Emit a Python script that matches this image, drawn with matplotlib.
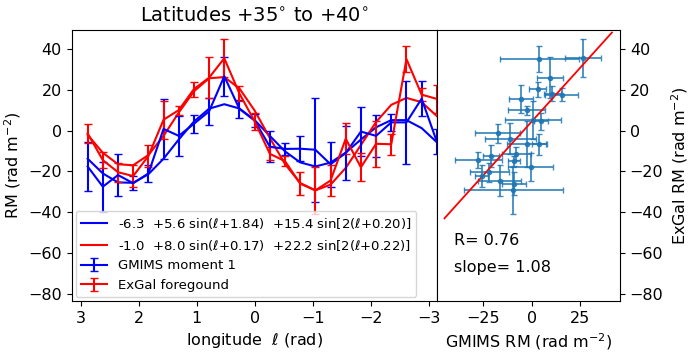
import matplotlib
matplotlib.use('Agg')
import matplotlib.pyplot as plt
import numpy as np

# galactic longitude bins (deg), 15 deg steps
lon_deg = [165, 150, 135, 120, 105, 90, 75, 60, 45, 30, 15, 0,
           -15, -30, -45, -60, -75, -90, -105, -120, -135, -150, -165, -180]

# GMIMS moment 1
gm = [-17.6, -27.5, -21.8, -25.8, -21.0, 0.8, -2.6, 3.3, 9.4, 26.6, 10.6, 4.9,
      -7.9, -9.0, -8.9, -9.4, -16.5, -11.0, -0.5, -2.6, 4.0, 4.0, 15.6, -5.4]
gm_err = [11.8, 12.3, 10.2, 3.5, 4.0, 14.5, 9.7, 4.4, 6.7, 9.5, 4.4, 3.4,
          7.6, 3.0, 6.2, 25.5, 11.0, 13.2, 11.8, 10.3, 4.0, 20.5, 8.5, 6.3]

# ExGal foreground
ex = [-1.4, -14.5, -20.4, -22.3, -12.5, 5.3, 10.0, 20.3, 25.9, 35.4, 18.1, 4.5,
      -11.4, -15.0, -26.0, -29.3, -24.5, -4.0, -18.0, -6.5, -6.7, 35.0, 17.6, 15.5]
ex_err = [4.6, 4.0, 4.7, 5.4, 5.6, 9.3, 2.2, 3.7, 10.0, 9.4, 3.5, 4.1,
          3.2, 2.5, 5.7, 11.5, 7.7, 7.5, 6.9, 11.4, 5.1, 6.3, 3.0, 7.0]

# fitted curves at the same longitudes
bfit = [-13.8, -21.0, -25.4, -25.6, -21.4, -13.8, -4.4, 4.4, 10.7, 12.9, 10.8, 5.1,
        -2.6, -10.2, -15.6, -17.6, -15.7, -10.8, -4.4, 1.6, 5.1, 5.1, 1.2, -5.7]
rfit = [-2.1, -10.9, -16.5, -17.0, -12.0, -2.6, 8.8, 19.2, 25.6, 26.2, 20.6, 9.8,
        -3.6, -16.4, -25.7, -29.3, -26.5, -18.3, -7.1, 4.2, 12.6, 16.0, 13.9, 7.1]

blab = r'-6.3  +5.6 sin($\ell$+1.84)  +15.4 sin[2($\ell$+0.20)]'
rlab = r'-1.0  +8.0 sin($\ell$+0.17)  +22.2 sin[2($\ell$+0.22)]'

# regression line in the right panel
reg_x = [-45.0, 41.5]
reg_y = [-43.0, 48.0]

plt.rcParams['font.size'] = 11.5
lon = np.radians(lon_deg)

fig = plt.figure(figsize=(6.92, 3.55), dpi=100)
ax1 = fig.add_axes([0.1036, 0.1521, 0.5275, 0.7648])
ax2 = fig.add_axes([0.6311, 0.1521, 0.2649, 0.7648], sharey=ax1)

ax1.plot(lon, bfit, color='blue', lw=1.5, label=blab)
ax1.plot(lon, rfit, color='red', lw=1.5, label=rlab)
ax1.errorbar(lon, gm, yerr=gm_err, color='blue', lw=1.5, capsize=3,
             label='GMIMS moment 1')
ax1.errorbar(lon, ex, yerr=ex_err, color='red', lw=1.5, capsize=3,
             label='ExGal foregound')
ax1.set_xlim(3.155, -3.14)
ax1.set_ylim(-83.5, 49.5)
ax1.set_xticks([3, 2, 1, 0, -1, -2, -3])
ax1.set_yticks([40, 20, 0, -20, -40, -60, -80])
ax1.set_xlabel(r'longitude  $\ell$ (rad)')
ax1.set_ylabel(r'RM (rad m$^{-2}$)')
ax1.set_title(r'Latitudes +35$^{\circ}$ to +40$^{\circ}$', fontsize=14)
ax1.legend(loc='lower left', fontsize=9.5, borderaxespad=0.3)

ax2.errorbar(gm, ex, xerr=gm_err, yerr=ex_err, fmt='.', color='C0',
             capsize=2, elinewidth=1.3, alpha=0.85)
ax2.plot(reg_x, reg_y, color='red', lw=1.3)
ax2.set_xlim(-49, 45.7)
ax2.set_xticks([-25, 0, 25])
ax2.yaxis.tick_right()
ax2.yaxis.set_label_position('right')
ax2.set_ylabel(r'ExGal RM (rad m$^{-2}$)')
ax2.set_xlabel(r'GMIMS RM (rad m$^{-2}$)')
ax2.text(-40, -54, 'R= 0.76', fontsize=11.5, va='center')
ax2.text(-40, -67, 'slope= 1.08', fontsize=11.5, va='center')

fig.savefig('out.png', dpi=100)
